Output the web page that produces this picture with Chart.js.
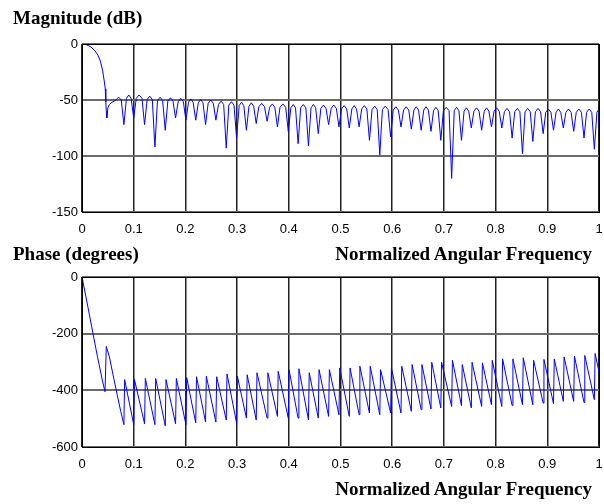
<!DOCTYPE html>
<html><head><meta charset="utf-8">
<script src="https://cdn.jsdelivr.net/npm/chart.js@4"></script>
<style>
html,body{margin:0;padding:0;background:#fff;}
#wrap{position:relative;width:604px;height:504px;overflow:hidden;background:#fff;}
canvas{position:absolute;left:0;}
.lbl{position:absolute;font-family:"Liberation Serif","Times New Roman",serif;font-weight:bold;font-size:19px;line-height:19px;color:#000;white-space:nowrap;}
</style></head><body>
<div id="wrap">
<canvas id="mag" width="604" height="250" style="top:0px"></canvas>
<canvas id="ph" width="604" height="254" style="top:250px"></canvas>
<div class="lbl" id="t1" style="left:13px;top:8px"></div>
<div class="lbl" id="x1" style="right:12px;top:244px"></div>
<div class="lbl" id="t2" style="left:13px;top:244px"></div>
<div class="lbl" id="x2" style="right:12px;top:479px"></div>
</div>
<script>
const magTitle = 'Magnitude (dB)';
const phaseTitle = 'Phase (degrees)';
const xTitle = 'Normalized Angular Frequency';
const xTickLabels = ['0','0.1','0.2','0.3','0.4','0.5','0.6','0.7','0.8','0.9','1'];
const magTickLabels = ['-150','-100','-50','0'];
const phaseTickLabels = ['-600','-400','-200','0'];

// [normalized frequency, magnitude dB]
const magnitude = [
[0,0],[0.008,-0.5],[0.017,-2.5],[0.025,-6],[0.031,-10],[0.036,-16],[0.040,-24],[0.043,-33],[0.045,-40],[0.046,-52],[0.047,-60],[0.048,-66],
[0.050,-57],[0.053,-54],[0.058,-52],[0.063,-51],[0.067,-49],[0.071,-47.5],[0.076,-50],
[0.081,-72],[0.086,-48.5],[0.0905,-45.5],[0.095,-48.5],
[0.100,-66],[0.105,-48.5],[0.1105,-45.5],[0.116,-48.5],
[0.121,-72],[0.126,-49.5],[0.131,-46.5],[0.136,-49.5],
[0.141,-92],[0.146,-50.5],[0.151,-47.5],[0.156,-50.5],
[0.161,-77],[0.166,-51],[0.171,-48],[0.176,-51],
[0.181,-66],[0.186,-51.5],[0.191,-48.5],[0.196,-51.5],
[0.201,-68],[0.206,-52],[0.2105,-49],[0.215,-52],
[0.220,-68],[0.225,-52.5],[0.2295,-49.5],[0.234,-52.5],
[0.239,-72],[0.244,-53],[0.249,-50],[0.254,-53],
[0.259,-68],[0.264,-54],[0.269,-51],[0.274,-54],
[0.279,-93],[0.284,-54.5],[0.289,-51.5],[0.294,-54.5],
[0.299,-84],[0.304,-55],[0.3085,-52],[0.313,-55],
[0.318,-77],[0.323,-55.5],[0.3275,-52.5],[0.332,-55.5],
[0.337,-71],[0.342,-56],[0.3475,-53],[0.353,-56],
[0.358,-69],[0.363,-56.5],[0.368,-53.5],[0.373,-56.5],
[0.378,-74],[0.383,-56.5],[0.3885,-53.5],[0.394,-56.5],
[0.399,-78],[0.404,-57],[0.4085,-54],[0.413,-57],
[0.418,-89],[0.423,-57],[0.428,-54],[0.433,-57],
[0.438,-91],[0.443,-57],[0.4475,-54],[0.452,-57],
[0.457,-80],[0.462,-57.5],[0.467,-54.5],[0.472,-57.5],
[0.477,-72],[0.482,-57.5],[0.487,-54.5],[0.492,-57.5],
[0.497,-74],[0.502,-58],[0.507,-55],[0.512,-58],
[0.517,-75],[0.522,-58],[0.5265,-55],[0.531,-58],
[0.536,-74],[0.541,-58],[0.546,-55],[0.551,-58],
[0.556,-86],[0.561,-58.5],[0.566,-55.5],[0.571,-58.5],
[0.576,-99],[0.581,-58.5],[0.5865,-55.5],[0.592,-58.5],
[0.597,-83],[0.602,-59],[0.607,-56],[0.612,-59],
[0.617,-74],[0.622,-59],[0.627,-56],[0.632,-59],
[0.637,-76],[0.642,-59],[0.6465,-56],[0.651,-59],
[0.656,-77],[0.661,-59],[0.6655,-56],[0.670,-59],
[0.675,-78],[0.680,-59.5],[0.6845,-56.5],[0.689,-59.5],
[0.694,-86],[0.699,-59.5],[0.7045,-56.5],[0.710,-59.5],
[0.715,-120],[0.720,-59.5],[0.7245,-56.5],[0.729,-59.5],
[0.734,-86],[0.739,-60],[0.7435,-57],[0.748,-60],
[0.753,-75],[0.758,-60],[0.763,-57],[0.768,-60],
[0.773,-77],[0.778,-60],[0.7825,-57],[0.787,-60],
[0.792,-74],[0.797,-60],[0.802,-57],[0.807,-60],
[0.812,-75],[0.817,-60.5],[0.822,-57.5],[0.827,-60.5],
[0.832,-84],[0.837,-60.5],[0.842,-57.5],[0.847,-60.5],
[0.852,-98],[0.857,-60.5],[0.862,-57.5],[0.867,-60.5],
[0.872,-87],[0.877,-60.5],[0.882,-57.5],[0.887,-60.5],
[0.892,-80],[0.897,-61],[0.902,-58],[0.907,-61],
[0.912,-77],[0.917,-61],[0.9215,-58],[0.926,-61],
[0.931,-75],[0.936,-61],[0.941,-58],[0.946,-61],
[0.951,-78],[0.956,-61],[0.961,-58],[0.966,-61],
[0.971,-84],[0.976,-61],[0.981,-58],[0.986,-61],
[0.991,-94],[0.996,-61],[1.0,-58]
];

// [normalized frequency, phase degrees]
const phase = [
[0,0],[0.010,-92],[0.021,-197],[0.030,-282],[0.040,-370],[0.0445,-405],[0.047,-245],[0.053,-282],[0.060,-345],[0.068,-415],[0.075,-475],
[0.081,-521],[0.0825,-362],[0.100,-521],[0.1015,-362],[0.121,-518],[0.1225,-358],[0.141,-521],[0.1425,-358],
[0.161,-525],[0.1625,-362],[0.181,-518],[0.1825,-358],[0.201,-521],[0.2025,-355],[0.220,-515],[0.2215,-352],
[0.239,-512],[0.2405,-350],[0.259,-512],[0.2605,-352],[0.279,-505],[0.2805,-342],[0.299,-515],[0.3005,-350],
[0.318,-498],[0.3195,-345],[0.337,-505],[0.3385,-338],[0.358,-498],[0.3595,-338],[0.378,-492],[0.3795,-333],
[0.399,-498],[0.4005,-327],[0.418,-498],[0.4195,-324],[0.438,-504],[0.4395,-338],[0.457,-498],[0.4585,-327],
[0.477,-492],[0.4785,-327],[0.497,-486],[0.4985,-321],[0.517,-492],[0.5185,-321],[0.536,-486],[0.5375,-315],
[0.556,-480],[0.5575,-315],[0.576,-486],[0.5775,-327],[0.597,-480],[0.5985,-321],[0.617,-480],[0.6185,-315],
[0.637,-474],[0.6385,-309],[0.656,-468],[0.6575,-309],[0.675,-466],[0.6765,-301],[0.694,-462],[0.6955,-301],
[0.715,-457],[0.7165,-294],[0.734,-454],[0.7355,-309],[0.753,-462],[0.7545,-301],[0.773,-457],[0.7745,-303],
[0.792,-451],[0.7935,-294],[0.812,-457],[0.8135,-289],[0.832,-454],[0.8335,-289],[0.852,-451],[0.8535,-285],
[0.872,-451],[0.8735,-294],[0.892,-445],[0.8935,-291],[0.912,-447],[0.9135,-289],[0.931,-439],[0.9325,-282],
[0.951,-439],[0.9525,-279],[0.971,-443],[0.9725,-277],[0.991,-433],[0.9925,-270],[1.0,-335]
];

document.getElementById('t1').textContent = magTitle;
document.getElementById('t2').textContent = phaseTitle;
document.getElementById('x1').textContent = xTitle;
document.getElementById('x2').textContent = xTitle;

const framePlugin = {
  id: 'frame',
  afterDraw(chart) {
    const a = chart.chartArea, ctx = chart.ctx;
    const l = Math.round(a.left - 0.5) + 0.5, r = Math.round(a.right - 0.5) + 0.5;
    const t = Math.round(a.top - 0.5) + 0.5, b = Math.round(a.bottom - 0.5) + 0.5;
    ctx.save();
    ctx.strokeStyle = '#000';
    ctx.lineWidth = 1;
    ctx.strokeRect(l, t, r - l, b - t);
    ctx.restore();
  }
};

const tickFont = {family: '"Liberation Sans", Arial, sans-serif', size: 13};

function makeChart(id, pts, yMin, yMax, yStep, yLabels, padTop, xAxisH) {
  return new Chart(document.getElementById(id), {
    type: 'line',
    data: {datasets: [{
      data: pts.map(p => ({x: p[0], y: p[1]})),
      borderColor: '#0000ff', borderWidth: 1, pointRadius: 0, fill: false, tension: 0
    }]},
    options: {
      responsive: false, animation: false, devicePixelRatio: 1,
      layout: {padding: {top: padTop, right: 5, left: 0, bottom: 0}},
      plugins: {legend: {display: false}, tooltip: {enabled: false}, title: {display: false}},
      scales: {
        x: {
          type: 'linear', min: 0, max: 1,
          afterFit: s => { s.height = xAxisH; s.paddingLeft = 0; s.paddingRight = 0; },
          border: {display: false},
          grid: {drawTicks: false, color: '#222', lineWidth: 1.5},
          ticks: {stepSize: 0.1, autoSkip: false, maxRotation: 0, padding: 10, color: '#000', font: tickFont,
                  callback: (v, i) => xTickLabels[i]}
        },
        y: {
          type: 'linear', min: yMin, max: yMax,
          afterFit: s => { s.width = 82; s.paddingTop = 0; s.paddingBottom = 0; },
          border: {display: false},
          grid: {drawTicks: false, color: '#6a6a6a', lineWidth: 2},
          ticks: {stepSize: yStep, autoSkip: false, padding: 4, color: '#000', font: tickFont,
                  callback: (v, i) => yLabels[i]}
        }
      }
    },
    plugins: [framePlugin]
  });
}

makeChart('mag', magnitude, -150, 0, 50, magTickLabels, 44, 38);
makeChart('ph', phase, -600, 0, 200, phaseTickLabels, 27, 57);
</script>
</body></html>
